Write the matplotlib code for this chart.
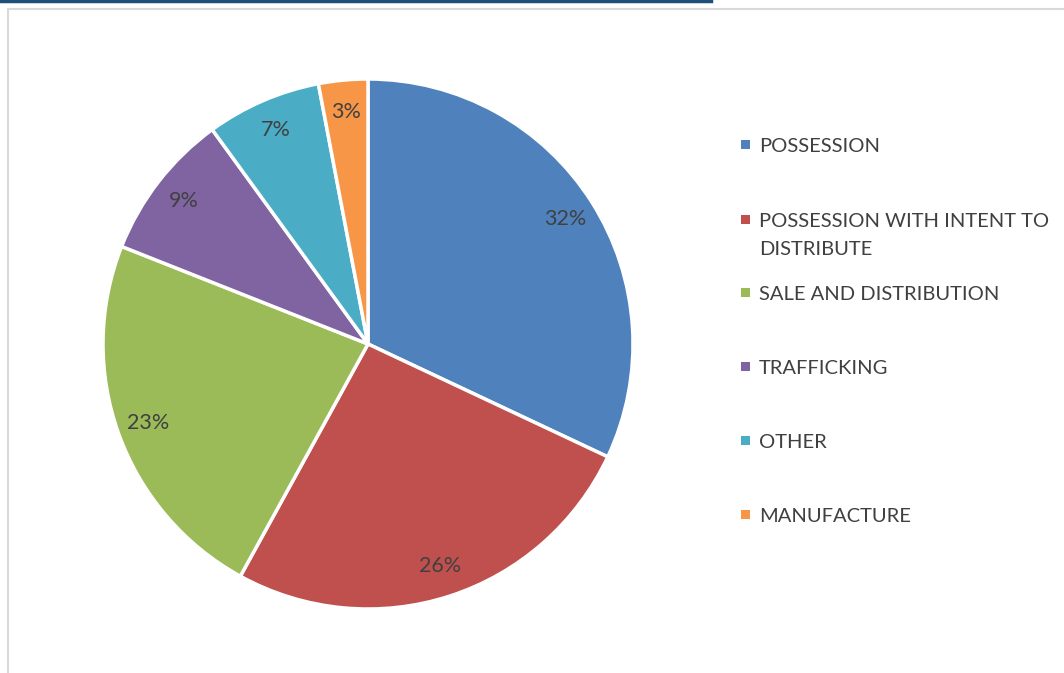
import matplotlib.pyplot as plt
from matplotlib.patches import Rectangle
from matplotlib.lines import Line2D

# Drug offence categories and their share of arrests (%)
categories = ["POSSESSION", "POSSESSION WITH INTENT TO\nDISTRIBUTE", "SALE AND DISTRIBUTION",
              "TRAFFICKING", "OTHER", "MANUFACTURE"]
shares = [32, 26, 23, 9, 7, 3]
colors = ["#4F81BD", "#C0504D", "#9BBB59", "#8064A2", "#4BACC6", "#F79646"]

plt.rcParams['font.family'] = ['Lato', 'DejaVu Sans']
W, H = 1064, 673
fig = plt.figure(figsize=(W / 100, H / 100), dpi=100)

# chart frame and the rule left over from the heading above it
fig.add_artist(Rectangle((8 / W, -0.1), 1.2, (H - 9) / H + 0.1, transform=fig.transFigure,
                         facecolor="white", edgecolor="#D9D9D9", linewidth=1.5, zorder=-1))
fig.add_artist(Line2D([0, 711 / W], [1 - 1 / H, 1 - 1 / H], transform=fig.transFigure,
                      color="#1F4E79", linewidth=2.5))

cx, cy, r = 368, 344, 265
ax = fig.add_axes([(cx - r) / W, (H - cy - r) / H, 2 * r / W, 2 * r / H])
ax.patch.set_visible(False)
wedges, texts, autotexts = ax.pie(shares, colors=colors, startangle=90, counterclock=False,
                                  autopct='%d%%', pctdistance=0.88,
                                  wedgeprops=dict(edgecolor="white", linewidth=2.5),
                                  textprops=dict(color="#404040", fontsize=15.5))
ax.set_xlim(-1.0, 1.0)
ax.set_ylim(-1.0, 1.0)
ax.set_aspect('equal')

# legend drawn as a list on the right, marker aligned with first text line
rows_y = [145, 220, 293, 367, 441, 515]
for label, col, y in zip(categories, colors, rows_y):
    fig.add_artist(Rectangle((741 / W, 1 - (y + 4) / H), 9 / W, 9 / H,
                             transform=fig.transFigure, facecolor=col, edgecolor="none"))
    fig.text(759 / W, 1 - (y - 7) / H, label, ha="left", va="top", color="#404040",
             fontsize=14.5, linespacing=1.78)

fig.savefig("out.png", dpi=100)
